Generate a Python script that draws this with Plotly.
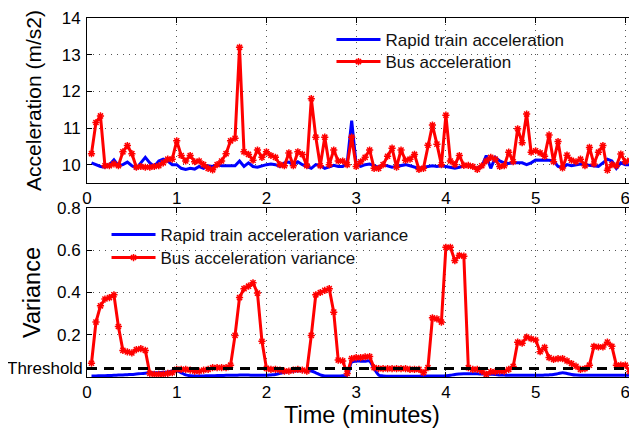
import plotly.graph_objects as go

# samples every 3 seconds (0.05 min)
time_min = [round(0.05 * (i + 1), 2) for i in range(123)]

train_acc = [
    10.05, 10.0, 9.95, 9.93, 10.0, 10.13, 9.97, 10.0, 10.07, 9.97, 9.9, 10.05, 10.2, 10.05, 9.95, 10.1, 10.15, 10.1, 10.0, 10.0,
    9.9, 9.87, 9.9, 9.88, 9.95, 9.9, 9.97, 9.95, 10.0, 9.97, 9.97, 9.95, 9.97, 10.1, 9.95, 10.05, 9.95, 9.93, 9.97, 10.0,
    10.02, 10.0, 9.95, 10.05, 10.07, 10.0, 10.08, 10.0, 9.95, 9.9, 10.0, 9.97, 9.9, 9.95, 9.98, 9.95, 9.95, 10.05, 11.2, 10.0,
    9.95, 10.0, 10.02, 9.97, 9.93, 10.0, 9.97, 9.93, 9.95, 9.97, 10.0, 9.97, 9.93, 9.9, 9.93, 9.95, 9.97, 9.95, 9.97, 9.95,
    9.93, 9.9, 9.93, 9.97, 9.97, 9.95, 9.9, 9.95, 10.25, 9.9, 10.2, 10.1, 10.05, 10.03, 10.05, 10.05, 10.05, 10.0, 10.05, 10.13,
    10.13, 10.13, 10.12, 10.1, 9.95, 9.92, 10.0, 9.97, 10.0, 10.02, 10.0, 9.98, 9.95, 9.95, 10.05, 10.15, 10.1, 9.9, 10.05, 10.0,
    10.0, 10.15, 10.05,
]

bus_acc = [
    10.3, 11.15, 11.33, 9.97, 9.97, 10.02, 9.97, 10.35, 10.52, 10.3, 9.93, 9.95, 9.93, 9.93, 9.95, 9.97, 10.05, 10.15, 10.15, 10.65,
    10.25, 10.1, 10.25, 10.08, 10.1, 10.0, 9.9, 9.86, 10.0, 10.1, 10.3, 10.65, 10.72, 13.2, 10.35, 10.28, 10.12, 10.4, 10.2, 10.35,
    10.25, 10.2, 10.0, 9.97, 10.32, 9.97, 10.35, 10.28, 9.97, 11.8, 10.75, 9.97, 10.75, 10.0, 10.4, 10.1, 10.1, 10.0, 10.75, 9.95,
    10.08, 10.2, 10.4, 9.9, 9.9, 10.0, 10.23, 10.45, 9.93, 10.4, 10.12, 10.15, 10.28, 9.87, 9.9, 10.53, 11.08, 10.56, 10.0, 11.35,
    10.1, 10.0, 10.25, 9.98, 9.98, 9.95, 9.87, 9.97, 10.1, 10.2, 10.15, 9.95, 9.97, 10.34, 10.08, 10.98, 10.6, 11.38, 10.34, 10.38,
    10.32, 10.23, 10.81, 10.08, 10.63, 9.91, 10.26, 10.12, 10.08, 10.15, 9.97, 10.47, 10.02, 10.34, 10.52, 9.85, 10.0, 9.97, 10.29, 10.08,
    10.12, 10.2, 11.0,
]

train_var = [
    0.005, 0.005, 0.006, 0.006, 0.007, 0.008, 0.009, 0.01, 0.011, 0.012, 0.014, 0.016, 0.018, 0.02, 0.02, 0.021, 0.022, 0.024, 0.028, 0.03,
    0.02, 0.01, 0.006, 0.005, 0.005, 0.005, 0.006, 0.006, 0.007, 0.007, 0.008, 0.008, 0.008, 0.009, 0.009, 0.009, 0.008, 0.008, 0.008, 0.008,
    0.01, 0.012, 0.017, 0.022, 0.026, 0.028, 0.03, 0.03, 0.03, 0.028, 0.02, 0.01, 0.005, 0.005, 0.005, 0.005, 0.006, 0.008, 0.07, 0.075,
    0.075, 0.075, 0.075, 0.04, 0.01, 0.005, 0.004, 0.004, 0.004, 0.004, 0.004, 0.004, 0.004, 0.004, 0.005, 0.005, 0.005, 0.005, 0.005, 0.006,
    0.008, 0.012, 0.014, 0.015, 0.015, 0.015, 0.015, 0.014, 0.014, 0.013, 0.012, 0.01, 0.009, 0.008, 0.008, 0.008, 0.008, 0.008, 0.008, 0.008,
    0.008, 0.009, 0.01, 0.012, 0.016, 0.02, 0.017, 0.012, 0.009, 0.008, 0.008, 0.008, 0.008, 0.008, 0.008, 0.008, 0.008, 0.008, 0.008, 0.008,
    0.008, 0.008, 0.008,
]

bus_var = [
    0.065, 0.26, 0.337, 0.369, 0.376, 0.389, 0.239, 0.126, 0.119, 0.114, 0.13, 0.134, 0.126, 0.017, 0.013, 0.013, 0.013, 0.017, 0.02, 0.036,
    0.036, 0.036, 0.033, 0.028, 0.028, 0.033, 0.036, 0.044, 0.044, 0.044, 0.044, 0.056, 0.197, 0.376, 0.418, 0.43, 0.446, 0.397, 0.169, 0.041,
    0.036, 0.036, 0.033, 0.028, 0.028, 0.033, 0.036, 0.033, 0.028, 0.197, 0.389, 0.4, 0.41, 0.418, 0.307, 0.08, 0.076, 0.017, 0.087, 0.092,
    0.092, 0.095, 0.097, 0.044, 0.04, 0.04, 0.04, 0.04, 0.04, 0.04, 0.04, 0.036, 0.036, 0.036, 0.02, 0.044, 0.28, 0.275, 0.26, 0.614,
    0.614, 0.551, 0.576, 0.572, 0.044, 0.036, 0.036, 0.028, 0.012, 0.025, 0.025, 0.028, 0.028, 0.036, 0.05, 0.165, 0.16, 0.189, 0.181, 0.175,
    0.12, 0.14, 0.092, 0.083, 0.087, 0.087, 0.076, 0.064, 0.051, 0.036, 0.04, 0.056, 0.145, 0.142, 0.142, 0.165, 0.145, 0.056, 0.056, 0.056,
    0.025, 0.028, 0.28,
]

threshold = 0.04

FONT = "Liberation Sans, Arial, Helvetica, sans-serif"
BLUE = "#0000ff"
RED = "#ff0000"

fig = go.Figure()

fig.add_trace(go.Scatter(
    x=time_min, y=train_acc, name="Rapid train acceleration", mode="lines",
    line=dict(color=BLUE, width=3), xaxis="x", yaxis="y", legend="legend",
))
fig.add_trace(go.Scatter(
    x=time_min, y=bus_acc, name="Bus acceleration", mode="lines+markers",
    line=dict(color=RED, width=3),
    marker=dict(symbol="asterisk-open", size=6, color=RED, line=dict(color=RED, width=1.5)),
    xaxis="x", yaxis="y", legend="legend2",
))
fig.add_trace(go.Scatter(
    x=time_min, y=train_var, name="Rapid train acceleration variance", mode="lines",
    line=dict(color=BLUE, width=3, shape="spline"), xaxis="x2", yaxis="y2", legend="legend3",
))
fig.add_trace(go.Scatter(
    x=time_min, y=bus_var, name="Bus acceleration variance", mode="lines+markers",
    line=dict(color=RED, width=3),
    marker=dict(symbol="asterisk-open", size=6, color=RED, line=dict(color=RED, width=1.5)),
    xaxis="x2", yaxis="y2", legend="legend4",
))

fig.add_shape(type="line", xref="x2 domain", yref="y2", x0=0, x1=1, y0=threshold, y1=threshold,
              line=dict(color="black", width=3, dash="10px,7px"))
fig.add_annotation(text="Threshold", xref="paper", yref="y2", x=0, y=threshold,
                   xanchor="right", yanchor="middle", xshift=-2, showarrow=False,
                   font=dict(size=17, family=FONT, color="black"))

axis_common = dict(
    showline=True, linecolor="black", linewidth=1, mirror="ticks",
    ticks="inside", ticklen=5, tickcolor="black", automargin=False,
    showgrid=True, gridcolor="#555555", griddash="1px,5px", gridwidth=1,
    zeroline=False, tickfont=dict(size=17, family=FONT, color="black"),
    ticklabeloverflow="allow",
)

legend_common = dict(xanchor="left", yanchor="middle", bgcolor="rgba(0,0,0,0)",
                     font=dict(size=17, family=FONT, color="#111"), itemwidth=44)

# the page body has an 8 px margin, so the figure is drawn 8 px in from the window corner
fig.update_layout(
    width=629, height=423,
    margin=dict(l=79, r=0, t=10, b=54),
    paper_bgcolor="white", plot_bgcolor="white",
    font=dict(family=FONT, color="black"),
    xaxis=dict(axis_common, domain=[0, 1], anchor="y", range=[0, 6.13],
               tickvals=[0, 1, 2, 3, 4, 5, 6], ticklabelstandoff=0),
    yaxis=dict(axis_common, domain=[0.5404, 1], anchor="x", range=[9.5, 14],
               tickvals=[10, 11, 12, 13, 14], ticklabelstandoff=2,
               title=dict(text="Acceleration (m/s2)", font=dict(size=21, family=FONT), standoff=14)),
    xaxis2=dict(axis_common, domain=[0, 1], anchor="y2", range=[0, 6.13],
                tickvals=[0, 1, 2, 3, 4, 5, 6], ticklabelstandoff=0,
                title=dict(text="Time (minutes)", font=dict(size=23.5, family=FONT), standoff=0)),
    yaxis2=dict(axis_common, domain=[0, 0.4708], anchor="x2", range=[0, 0.8],
                tickvals=[0.2, 0.4, 0.6, 0.8], ticktext=["0.2", "0.4", "0.6", "0.8"],
                ticklabelstandoff=2,
                title=dict(text="Variance", font=dict(size=23.5, family=FONT), standoff=9)),
    legend=dict(legend_common, x=0.4445, y=0.9387),
    legend2=dict(legend_common, x=0.4445, y=0.8774),
    legend3=dict(legend_common, x=0.0355, y=0.3955),
    legend4=dict(legend_common, x=0.0355, y=0.3315),
    showlegend=True,
)

fig.write_html("out.html")
